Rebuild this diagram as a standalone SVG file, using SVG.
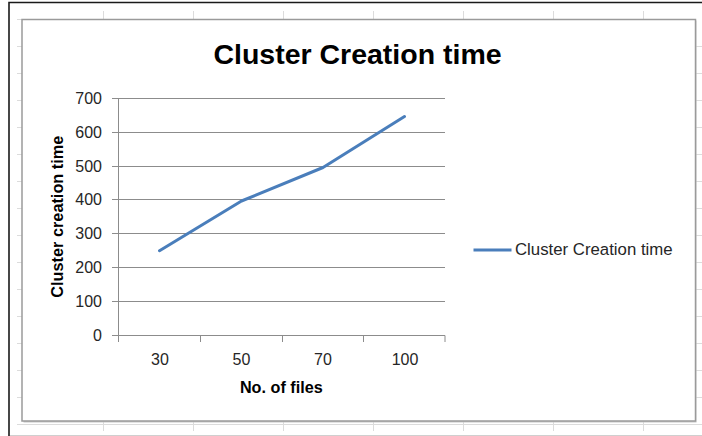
<svg xmlns="http://www.w3.org/2000/svg" width="702" height="436" viewBox="0 0 702 436">
<style>
.sg{stroke:#dcdcdc;stroke-width:1;fill:none}
.grid{stroke:#8c8c8c;stroke-width:1;fill:none}
.axis{stroke:#8c8c8c;stroke-width:1;fill:none}
.tick{font-family:"Liberation Sans",Arial,sans-serif;font-size:16px;fill:#262626}
.ttl{font-family:"Liberation Sans",Arial,sans-serif;font-weight:bold;fill:#000}
</style>
<rect x="0" y="0" width="702" height="436" fill="#ffffff"/>
<g id="sheet-grid">
<path class="sg" d="M103.5 11V20M193.5 11V20M283.5 11V20M373.5 11V20M463.5 11V20M553.5 11V20M643.5 11V20"/>
<path class="sg" d="M103.5 421V431M193.5 421V431M283.5 421V431M373.5 421V431M463.5 421V431M553.5 421V431M643.5 421V431"/>
<path class="sg" d="M17 19.5H22M17 46.5H22M17 73.5H22M17 100.5H22M17 127.5H22M17 154.5H22M17 181.5H22M17 208.5H22M17 235.5H22M17 262.5H22M17 289.5H22M17 316.5H22M17 343.5H22M17 370.5H22M17 397.5H22"/>
<path class="sg" d="M696 46.5H702M696 73.5H702M696 100.5H702M696 127.5H702M696 154.5H702M696 181.5H702M696 208.5H702M696 235.5H702M696 262.5H702M696 289.5H702M696 316.5H702M696 343.5H702M696 370.5H702M696 397.5H702"/>
<path class="sg" d="M17 424.5H702"/>
<path d="M10 435.5H702" stroke="#cfcfcf" stroke-width="1.2"/>
</g>
<g id="frame">
<path d="M9 436V2.5H702" stroke="#1a1a1a" stroke-width="1.6" fill="none"/>
</g>
<g id="chart-area">
<rect x="23.5" y="20.5" width="673" height="402" fill="#c8c8c8"/>
<rect x="22" y="19.5" width="673.5" height="401.5" fill="#ffffff" stroke="#9a9a9a" stroke-width="1.5"/>
</g>
<g id="title">
<text class="ttl" x="357.5" y="63.5" font-size="28.5" text-anchor="middle">Cluster Creation time</text>
</g>
<g id="gridlines">
<path class="grid" d="M112 98.5H445M112 132.5H445M112 166.5H445M112 199.5H445M112 233.5H445M112 267.5H445M112 301.5H445"/>
</g>
<g id="axes">
<path class="axis" d="M118.5 98.5V335.5M112 335.5H445"/>
<path class="axis" d="M118.5 335.5V342M200.5 335.5V342M282.5 335.5V342M363.5 335.5V342M445 335.5V342"/>
</g>
<g id="y-labels" class="tick" text-anchor="end">
<text x="102" y="103.5">700</text>
<text x="102" y="137.5">600</text>
<text x="102" y="171.5">500</text>
<text x="102" y="204.5">400</text>
<text x="102" y="238.5">300</text>
<text x="102" y="272.5">200</text>
<text x="102" y="306.5">100</text>
<text x="102" y="340.5">0</text>
</g>
<g id="x-labels" class="tick" text-anchor="middle">
<text x="160" y="365">30</text>
<text x="241.5" y="365">50</text>
<text x="323" y="365">70</text>
<text x="405" y="365">100</text>
</g>
<g id="axis-titles">
<text class="ttl" x="281.3" y="393" font-size="16.2" text-anchor="middle">No. of files</text>
<text class="ttl" transform="translate(62.5 216.7) rotate(-90)" x="0" y="0" font-size="16.3" text-anchor="middle">Cluster creation time</text>
</g>
<g id="series">
<polyline points="159.5,250.7 241.5,201 323,167.5 404.5,116.5" fill="none" stroke="#4a7ebb" stroke-width="3" stroke-linejoin="round" stroke-linecap="round"/>
</g>
<g id="legend">
<line x1="473.5" y1="250" x2="511.5" y2="250" stroke="#4a7ebb" stroke-width="3"/>
<text x="515" y="255" font-family="'Liberation Sans',Arial,sans-serif" font-size="16.8" fill="#262626">Cluster Creation time</text>
</g>
</svg>
